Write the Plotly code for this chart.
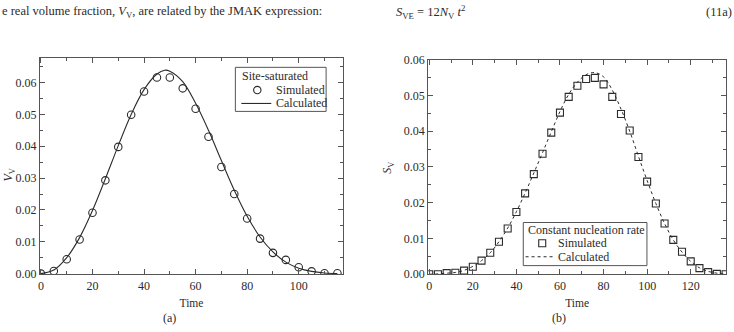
import plotly.graph_objects as go

W, H = 734, 332

# ---- data: panel (a) site-saturated ----
t_sim_a = [0, 5, 10, 15, 20, 25, 30, 35, 40, 45, 50, 55, 60, 65, 70, 75, 80, 85, 90, 95, 100, 105, 110, 115]
v_sim_a = [0.0000, 0.0008, 0.0045, 0.0107, 0.0191, 0.0293, 0.0398, 0.0499, 0.0572, 0.0616, 0.0616, 0.0582,
           0.0518, 0.0430, 0.0335, 0.0250, 0.0173, 0.0110, 0.0065, 0.0043, 0.0020, 0.0007, 0.0001, 0.0001]
t_calc_a = [0, 5, 10, 15, 20, 25, 30, 35, 40, 45, 48, 50, 55, 60, 65, 70, 75, 80, 85, 90, 95, 100, 105, 110, 115]
v_calc_a = [0.0000, 0.0011, 0.0050, 0.0113, 0.0198, 0.0298, 0.0402, 0.0500, 0.0578, 0.0627, 0.0639, 0.0636,
            0.0603, 0.0535, 0.0450, 0.0355, 0.0262, 0.0180, 0.0115, 0.0068, 0.0036, 0.0017, 0.0007, 0.0002, 0.0000]

# ---- data: panel (b) constant nucleation rate ----
t_sim_b = [0, 4, 8, 12, 16, 20, 24, 28, 32, 36, 40, 44, 48, 52, 56, 60, 64, 68, 72, 76, 80, 84, 88, 92,
           96, 100, 104, 108, 112, 116, 120, 124, 128, 132, 136]
v_sim_b = [0.0000, 0.0000, 0.0003, 0.0004, 0.0010, 0.0021, 0.0038, 0.0060, 0.0091, 0.0128, 0.0174, 0.0226,
           0.0280, 0.0337, 0.0396, 0.0452, 0.0496, 0.0527, 0.0546, 0.0549, 0.0531, 0.0496, 0.0448, 0.0402,
           0.0328, 0.0259, 0.0198, 0.0142, 0.0096, 0.0063, 0.0036, 0.0017, 0.0006, 0.0001, 0.0000]
t_calc_b = t_sim_b
v_calc_b = [0.0000, 0.0001, 0.0003, 0.0005, 0.0011, 0.0022, 0.0038, 0.0060, 0.0091, 0.0129, 0.0175, 0.0227,
            0.0283, 0.0340, 0.0398, 0.0455, 0.0503, 0.0537, 0.0558, 0.0564, 0.0552, 0.0515, 0.0462, 0.0400,
            0.0330, 0.0262, 0.0198, 0.0142, 0.0096, 0.0062, 0.0036, 0.0018, 0.0008, 0.0003, 0.0001]

ticks_y = [0.00, 0.01, 0.02, 0.03, 0.04, 0.05, 0.06]

legend_a_title = "Site-saturated"
legend_b_title = "Constant nucleation rate"
legend_labels = ["Simulated", "Calculated"]

INK = "#2b2b2b"
FRAME = "#555555"
FONT = "Liberation Serif, Times New Roman, DejaVu Serif, serif"

fig = go.Figure()

fig.add_trace(go.Scatter(x=t_sim_a, y=v_sim_a, mode="markers", name=legend_labels[0],
                         marker=dict(symbol="circle-open", size=7.5, color=INK, line=dict(width=1.1)),
                         xaxis="x", yaxis="y"))
fig.add_trace(go.Scatter(x=t_calc_a, y=v_calc_a, mode="lines", name=legend_labels[1],
                         line=dict(color=INK, width=1.1, shape="spline"),
                         xaxis="x", yaxis="y"))
fig.add_trace(go.Scatter(x=t_sim_b, y=v_sim_b, mode="markers", name=legend_labels[0],
                         marker=dict(symbol="square-open", size=7, color=INK, line=dict(width=1.1)),
                         xaxis="x2", yaxis="y2"))
fig.add_trace(go.Scatter(x=t_calc_b, y=v_calc_b, mode="lines", name=legend_labels[1],
                         line=dict(color=INK, width=1, dash="3px,3px", shape="spline"),
                         xaxis="x2", yaxis="y2"))


def ax(domain, rng, minor_dtick, fmt=None, tickvals=None, dtick=None):
    d = dict(domain=domain, range=rng, showgrid=False, zeroline=False,
             showline=True, mirror="ticks", linecolor=FRAME, linewidth=1,
             ticks="inside", ticklen=5, tickcolor=FRAME, tickwidth=1,
             minor=dict(ticks="inside", ticklen=3, dtick=minor_dtick, tick0=0, tickcolor=FRAME, showgrid=False),
             tickfont=dict(family=FONT, size=12, color=INK))
    if fmt:
        d["tickformat"] = fmt
    if tickvals is not None:
        d["tickvals"] = tickvals
    if dtick is not None:
        d["dtick"] = dtick
        d["tick0"] = 0
    return d


fx0 = lambda px: px / W
fy0 = lambda py: 1 - py / H

time_title = dict(text="Time", font=dict(family=FONT, size=11.5, color=INK), standoff=7)
xa = ax([fx0(38), fx0(342)], [-0.4, 117.2], 10, dtick=20)
xa["title"] = time_title
ya = ax([fy0(279), fy0(53)], [-0.0002, 0.0678], 0.005, ".2f", ticks_y)
xb = ax([fx0(427.3), fx0(726)], [-0.5, 136.2], 10, dtick=20)
xb["title"] = time_title
xb["anchor"] = "y2"
yb = ax([fy0(279), fy0(55)], [0, 0.06], 0.005, ".2f", ticks_y)
yb["anchor"] = "x2"

fig.update_layout(
    width=W, height=H, margin=dict(l=0, r=0, t=0, b=0),
    paper_bgcolor="white", plot_bgcolor="white",
    font=dict(family=FONT, size=12, color=INK),
    xaxis=xa, yaxis=ya, xaxis2=xb, yaxis2=yb,
    showlegend=False,
)

ann_font = dict(family=FONT, size=12, color=INK)


def text(s, px, py, anchor="left", angle=0, size=12):
    fig.add_annotation(text=s, xref="paper", yref="paper", x=fx0(px), y=fy0(py),
                       xanchor=anchor, yanchor="middle", textangle=angle, showarrow=False,
                       font=dict(family=FONT, size=size, color=INK), borderpad=0)


# header text from the page
text("e real volume fraction, <i>V</i><sub>V</sub>, are related by the JMAK expression:", -1, 5, size=12.5)
text("<i>S</i><sub>VE</sub> = 12<i>N</i><sub>V</sub> <i>t</i><sup>2</sup>", 394, 5, size=12.5)
text("(11a)", 733, 5, anchor="right", size=12.5)
text("(a)", 168, 325, anchor="center")
text("(b)", 559, 325, anchor="center")
text("<i>V</i><sub>V</sub>", 7, 175, anchor="center", angle=-90)
text("<i>S</i><sub>V</sub>", 387, 168, anchor="center", angle=-90)

# ---- legends (drawn as boxes with sample marks) ----
def box(x0, y0, x1, y1):
    fig.add_shape(type="rect", xref="paper", yref="paper", x0=fx0(x0), x1=fx0(x1), y0=fy0(y1), y1=fy0(y0),
                  line=dict(color=FRAME, width=1), fillcolor="white", layer="above")


def sample_marker(kind, px, py, r):
    fig.add_shape(type=kind, xref="paper", yref="paper", xsizemode="pixel", ysizemode="pixel",
                  xanchor=fx0(px), yanchor=fy0(py), x0=-r, x1=r, y0=-r, y1=r,
                  line=dict(color=INK, width=1.1), layer="above")


def sample_line(px0, px1, py, dash="solid"):
    fig.add_shape(type="line", xref="paper", yref="paper", x0=fx0(px0), x1=fx0(px1), y0=fy0(py), y1=fy0(py),
                  line=dict(color=INK, width=1.1, dash=dash), layer="above")


# legend (a)
box(234, 63, 325, 109)
text(legend_a_title, 239.5, 72)
sample_marker("circle", 256, 86.7, 3.7)
text(legend_labels[0], 274, 86.7)
sample_line(240, 270, 100.7)
text(legend_labels[1], 274, 100.7)

# legend (b)
box(522.7, 225, 646.7, 270)
text(legend_b_title, 526, 232.7)
sample_marker("rect", 541.7, 246.7, 3.5)
text(legend_labels[0], 557, 246.7)
sample_line(525, 553, 260.7, dash="3px,3px")
text(legend_labels[1], 557, 260.7)

fig.write_html("out.html")
